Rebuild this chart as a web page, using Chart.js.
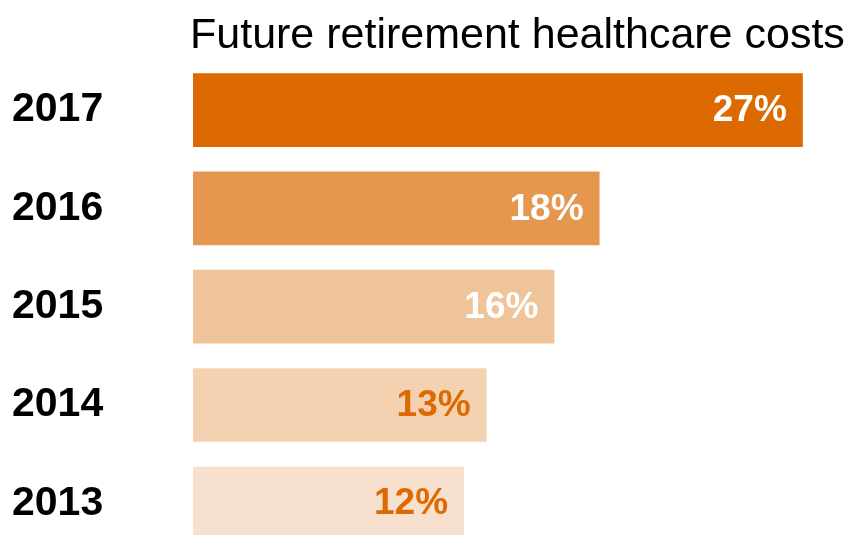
<!DOCTYPE html>
<html>
<head>
<meta charset="utf-8">
<script src="https://cdn.jsdelivr.net/npm/chart.js@4/dist/chart.umd.min.js"></script>
<style>
  html, body { margin: 0; padding: 0; background: #fff; overflow: hidden; }
  #wrap { width: 848px; height: 535px; overflow: hidden; }
  #box { position: relative; width: 848px; height: 580px; }
</style>
</head>
<body>
<div id="wrap"><div id="box"><canvas id="chart"></canvas></div></div>
<script>
const title = "Future retirement healthcare costs";
const years = ["2017", "2016", "2015", "2014", "2013"];
const shares = [27, 18, 16, 13, 12];
const barColors = ["#DD6A00", "#E5964F", "#F0C49A", "#F4D2B1", "#F7E0CD"];
const labelColors = ["#fff", "#fff", "#fff", "#DD6A00", "#DD6A00"];

const font = "'Liberation Sans', Arial, Helvetica, sans-serif";

// values inside the bar ends
const valueLabels = {
  id: "valueLabels",
  afterDatasetsDraw(c) {
    const ctx = c.ctx;
    ctx.save();
    ctx.font = "bold 37px " + font;
    ctx.textAlign = "right";
    ctx.textBaseline = "middle";
    c.getDatasetMeta(0).data.forEach((bar, i) => {
      ctx.fillStyle = labelColors[i];
      ctx.fillText(shares[i] + "%", bar.x - 16, bar.y + 1);
    });
    ctx.restore();
  }
};

// title sits over the bars, left aligned with them
const topTitle = {
  id: "topTitle",
  afterDraw(c) {
    const ctx = c.ctx;
    ctx.save();
    ctx.font = "43px " + font;
    ctx.fillStyle = "#000";
    ctx.textBaseline = "alphabetic";
    ctx.fillText(title, c.chartArea.left - 3, 48);
    ctx.restore();
  }
};

new Chart(document.getElementById("chart"), {
  type: "bar",
  data: {
    labels: years,
    datasets: [{
      data: shares,
      backgroundColor: barColors,
      borderWidth: 0,
      barPercentage: 0.75,
      categoryPercentage: 1
    }]
  },
  options: {
    indexAxis: "y",
    responsive: true,
    maintainAspectRatio: false,
    animation: false,
    layout: { padding: { top: 61, bottom: 7, left: 12, right: 0 } },
    plugins: { legend: { display: false }, tooltip: { enabled: false } },
    scales: {
      x: { display: false, min: 0, max: 29 },
      y: {
        afterFit: s => { s.width = 181; },
        grid: { display: false },
        border: { display: false },
        ticks: {
          crossAlign: "far",
          color: "#000",
          font: { family: font, size: 41, weight: "bold" }
        }
      }
    }
  },
  plugins: [valueLabels, topTitle]
});
</script>
</body>
</html>
